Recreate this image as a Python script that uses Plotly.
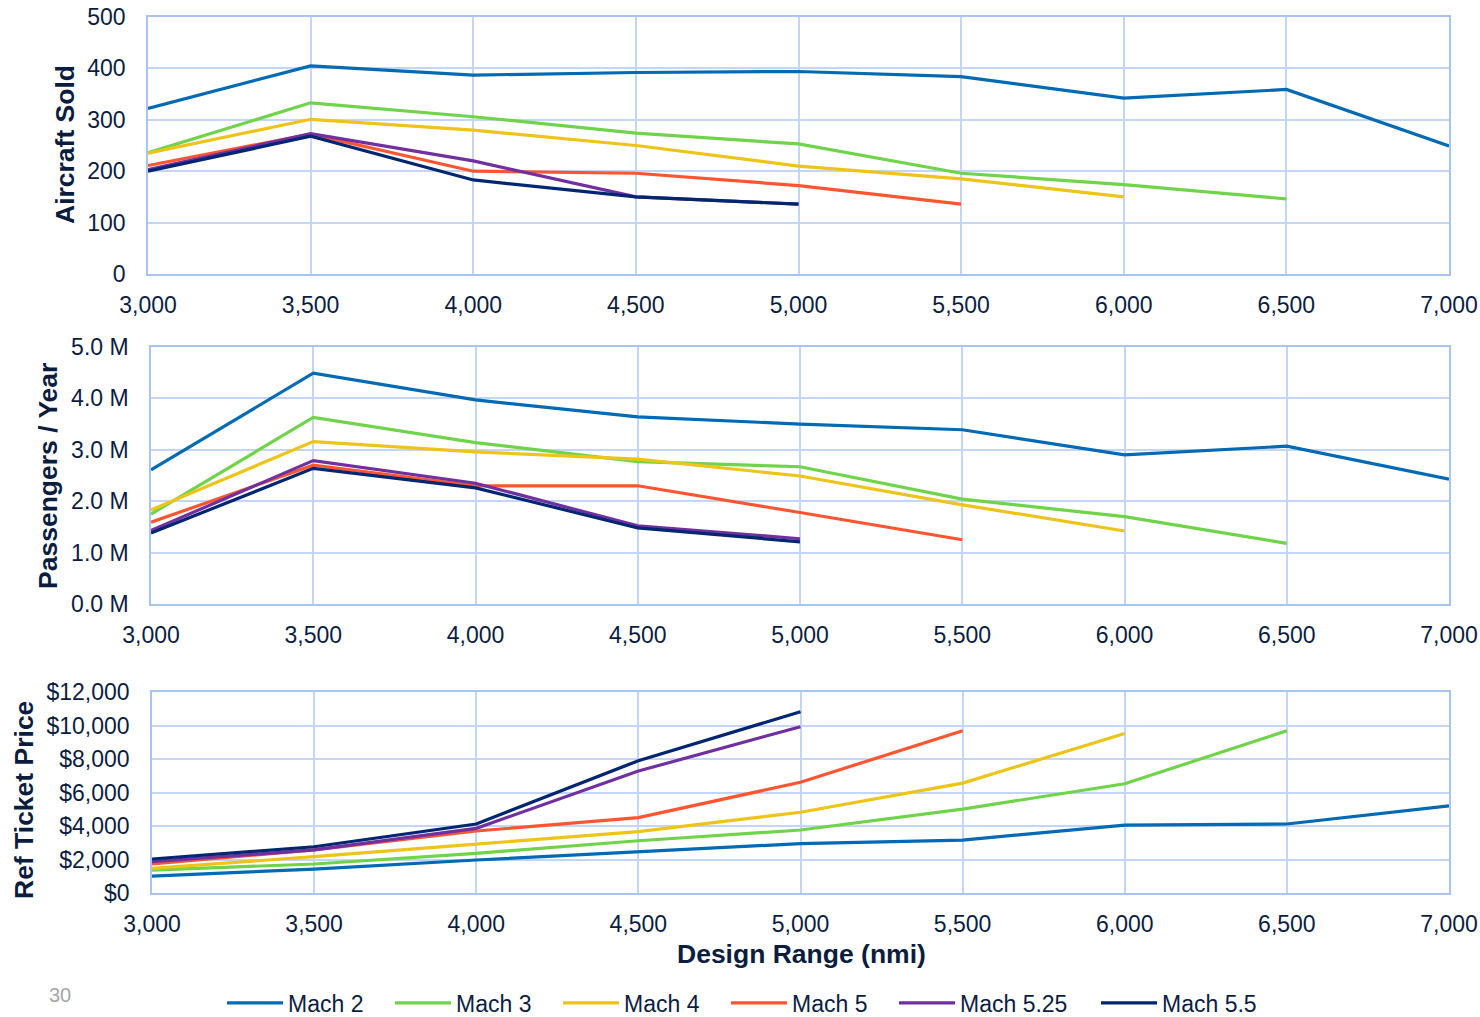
import plotly.graph_objects as go

series_names = ["Mach 2", "Mach 3", "Mach 4", "Mach 5", "Mach 5.25", "Mach 5.5"]
series_colors = ["#006AB4", "#70D44B", "#EEC418", "#FF5530", "#7030A0", "#002672"]

range_mach2 = [3000, 3500, 4000, 4500, 5000, 5500, 6000, 6500, 7000]
range_mach3 = [3000, 3500, 4000, 4500, 5000, 5500, 6000, 6500]
range_mach4 = [3000, 3500, 4000, 4500, 5000, 5500, 6000]
range_mach5 = [3000, 3500, 4000, 4500, 5000, 5500]
range_mach525 = [3000, 3500, 4000, 4500, 5000]
range_mach55 = [3000, 3500, 4000, 4500, 5000]

# Aircraft Sold
sold_mach2 = [322, 405, 387, 392, 394, 384, 342, 359, 249]
sold_mach3 = [236, 333, 306, 274, 253, 196, 174, 146]
sold_mach4 = [235, 301, 280, 250, 210, 185, 150]
sold_mach5 = [211, 272, 200, 196, 172, 136]
sold_mach525 = [203, 273, 220, 150, 136]
sold_mach55 = [200, 268, 183, 150, 136]

# Passengers / Year (millions)
pax_mach2 = [2.61, 4.49, 3.97, 3.64, 3.50, 3.39, 2.90, 3.07, 2.43]
pax_mach3 = [1.75, 3.63, 3.14, 2.77, 2.67, 2.04, 1.70, 1.18]
pax_mach4 = [1.83, 3.16, 2.96, 2.82, 2.49, 1.93, 1.42]
pax_mach5 = [1.59, 2.70, 2.30, 2.30, 1.78, 1.25]
pax_mach525 = [1.43, 2.79, 2.35, 1.52, 1.27]
pax_mach55 = [1.38, 2.64, 2.26, 1.48, 1.21]

# Ref Ticket Price ($)
price_mach2 = [1010, 1430, 1970, 2470, 2950, 3160, 4050, 4120, 5200]
price_mach3 = [1370, 1730, 2370, 3120, 3760, 5010, 6520, 9690]
price_mach4 = [1470, 2170, 2920, 3660, 4820, 6560, 9520]
price_mach5 = [1730, 2570, 3700, 4500, 6610, 9690]
price_mach525 = [1870, 2570, 3860, 7280, 9930]
price_mach55 = [2030, 2760, 4120, 7900, 10820]

x_ticks = [3000, 3500, 4000, 4500, 5000, 5500, 6000, 6500, 7000]

ranges = [range_mach2, range_mach3, range_mach4, range_mach5, range_mach525, range_mach55]
sold = [sold_mach2, sold_mach3, sold_mach4, sold_mach5, sold_mach525, sold_mach55]
pax = [pax_mach2, pax_mach3, pax_mach4, pax_mach5, pax_mach525, pax_mach55]
price = [price_mach2, price_mach3, price_mach4, price_mach5, price_mach525, price_mach55]

W, H = 1480, 1017
TXT = "#0B1D3F"
GRID = "#C3D6F8"
FONT = "Liberation Sans, Arial, sans-serif"
legend_widths = [97, 97, 97, 97, 131, 97]

def px(x):
    return x / W

def py(y):
    return 1 - y / H

fig = go.Figure()
panels = [("x", "y", sold), ("x2", "y2", pax), ("x3", "y3", price)]
for p, (xa, ya, data) in enumerate(panels):
    for i, name in enumerate(series_names):
        fig.add_trace(go.Scatter(
            x=ranges[i], y=data[i], name=name, mode="lines",
            line=dict(color=series_colors[i], width=3.2),
            xaxis=xa, yaxis=ya, legendgroup=name, showlegend=(p == 0),
            legendwidth=legend_widths[i], hoverinfo="x+y+name",
        ))

def xd(l, r):
    return [px(l), px(r)]

def yd(t, b):
    return [py(b), py(t)]

common_x = dict(range=[3000, 7000], tickvals=x_ticks, tickformat=",", showgrid=True,
                gridcolor=GRID, gridwidth=1.5, showline=True, linecolor="#A9C3F2", linewidth=1.5,
                mirror=True, zeroline=False, ticks="", ticklabelstandoff=10, automargin=False,
                ticklabeloverflow="allow", tickfont=dict(size=23, color=TXT, family=FONT))
common_y = dict(showgrid=True, gridcolor=GRID, gridwidth=1.5, showline=True, linecolor="#A9C3F2",
                linewidth=1.5, mirror=True, zeroline=False, ticks="", ticklabelstandoff=16,
                automargin=False, ticklabeloverflow="allow",
                tickfont=dict(size=23, color=TXT, family=FONT))

fig.update_layout(
    width=W, height=H,
    margin=dict(l=0, r=0, t=0, b=0, autoexpand=False),
    paper_bgcolor="white", plot_bgcolor="white",
    font=dict(family=FONT, color=TXT),
    showlegend=True,
    legend=dict(orientation="h", x=px(222), xanchor="left", y=py(1003), yanchor="middle",
                font=dict(size=23, color=TXT, family=FONT), bgcolor="rgba(0,0,0,0)",
                itemwidth=56),
    xaxis=dict(domain=xd(148, 1449), anchor="y", **common_x),
    yaxis=dict(domain=yd(17, 274), anchor="x", range=[0, 500], dtick=100, **common_y),
    xaxis2=dict(domain=xd(151, 1449), anchor="y2", **common_x),
    yaxis2=dict(domain=yd(347, 604), anchor="x2", range=[0, 5], dtick=1, tickformat=".1f",
                ticksuffix=" M", **common_y),
    xaxis3=dict(domain=xd(152, 1449), anchor="y3", **common_x),
    yaxis3=dict(domain=yd(692, 893), anchor="x3", range=[0, 12000], dtick=2000, tickformat=",",
                tickprefix="$", **common_y),
)

title_font = dict(size=26.5, color=TXT, family=FONT)
annots = [
    dict(text="<b>Aircraft Sold</b>", x=px(65), y=py(145), textangle=-90),
    dict(text="<b>Passengers / Year</b>", x=px(48), y=py(476), textangle=-90),
    dict(text="<b>Ref Ticket Price</b>", x=px(24), y=py(800), textangle=-90),
    dict(text="<b>Design Range (nmi)</b>", x=px(801), y=py(954), textangle=0),
]
for a in annots:
    fig.add_annotation(xref="paper", yref="paper", xanchor="center", yanchor="middle",
                       showarrow=False, font=title_font, **a)
fig.add_annotation(text="30", xref="paper", yref="paper", x=px(60), y=py(995),
                   xanchor="center", yanchor="middle", showarrow=False,
                   font=dict(size=20, color="#A6A6A6", family=FONT))

fig.write_html("out.html", config={"displayModeBar": False},
               post_script="document.body.style.margin='0';")
